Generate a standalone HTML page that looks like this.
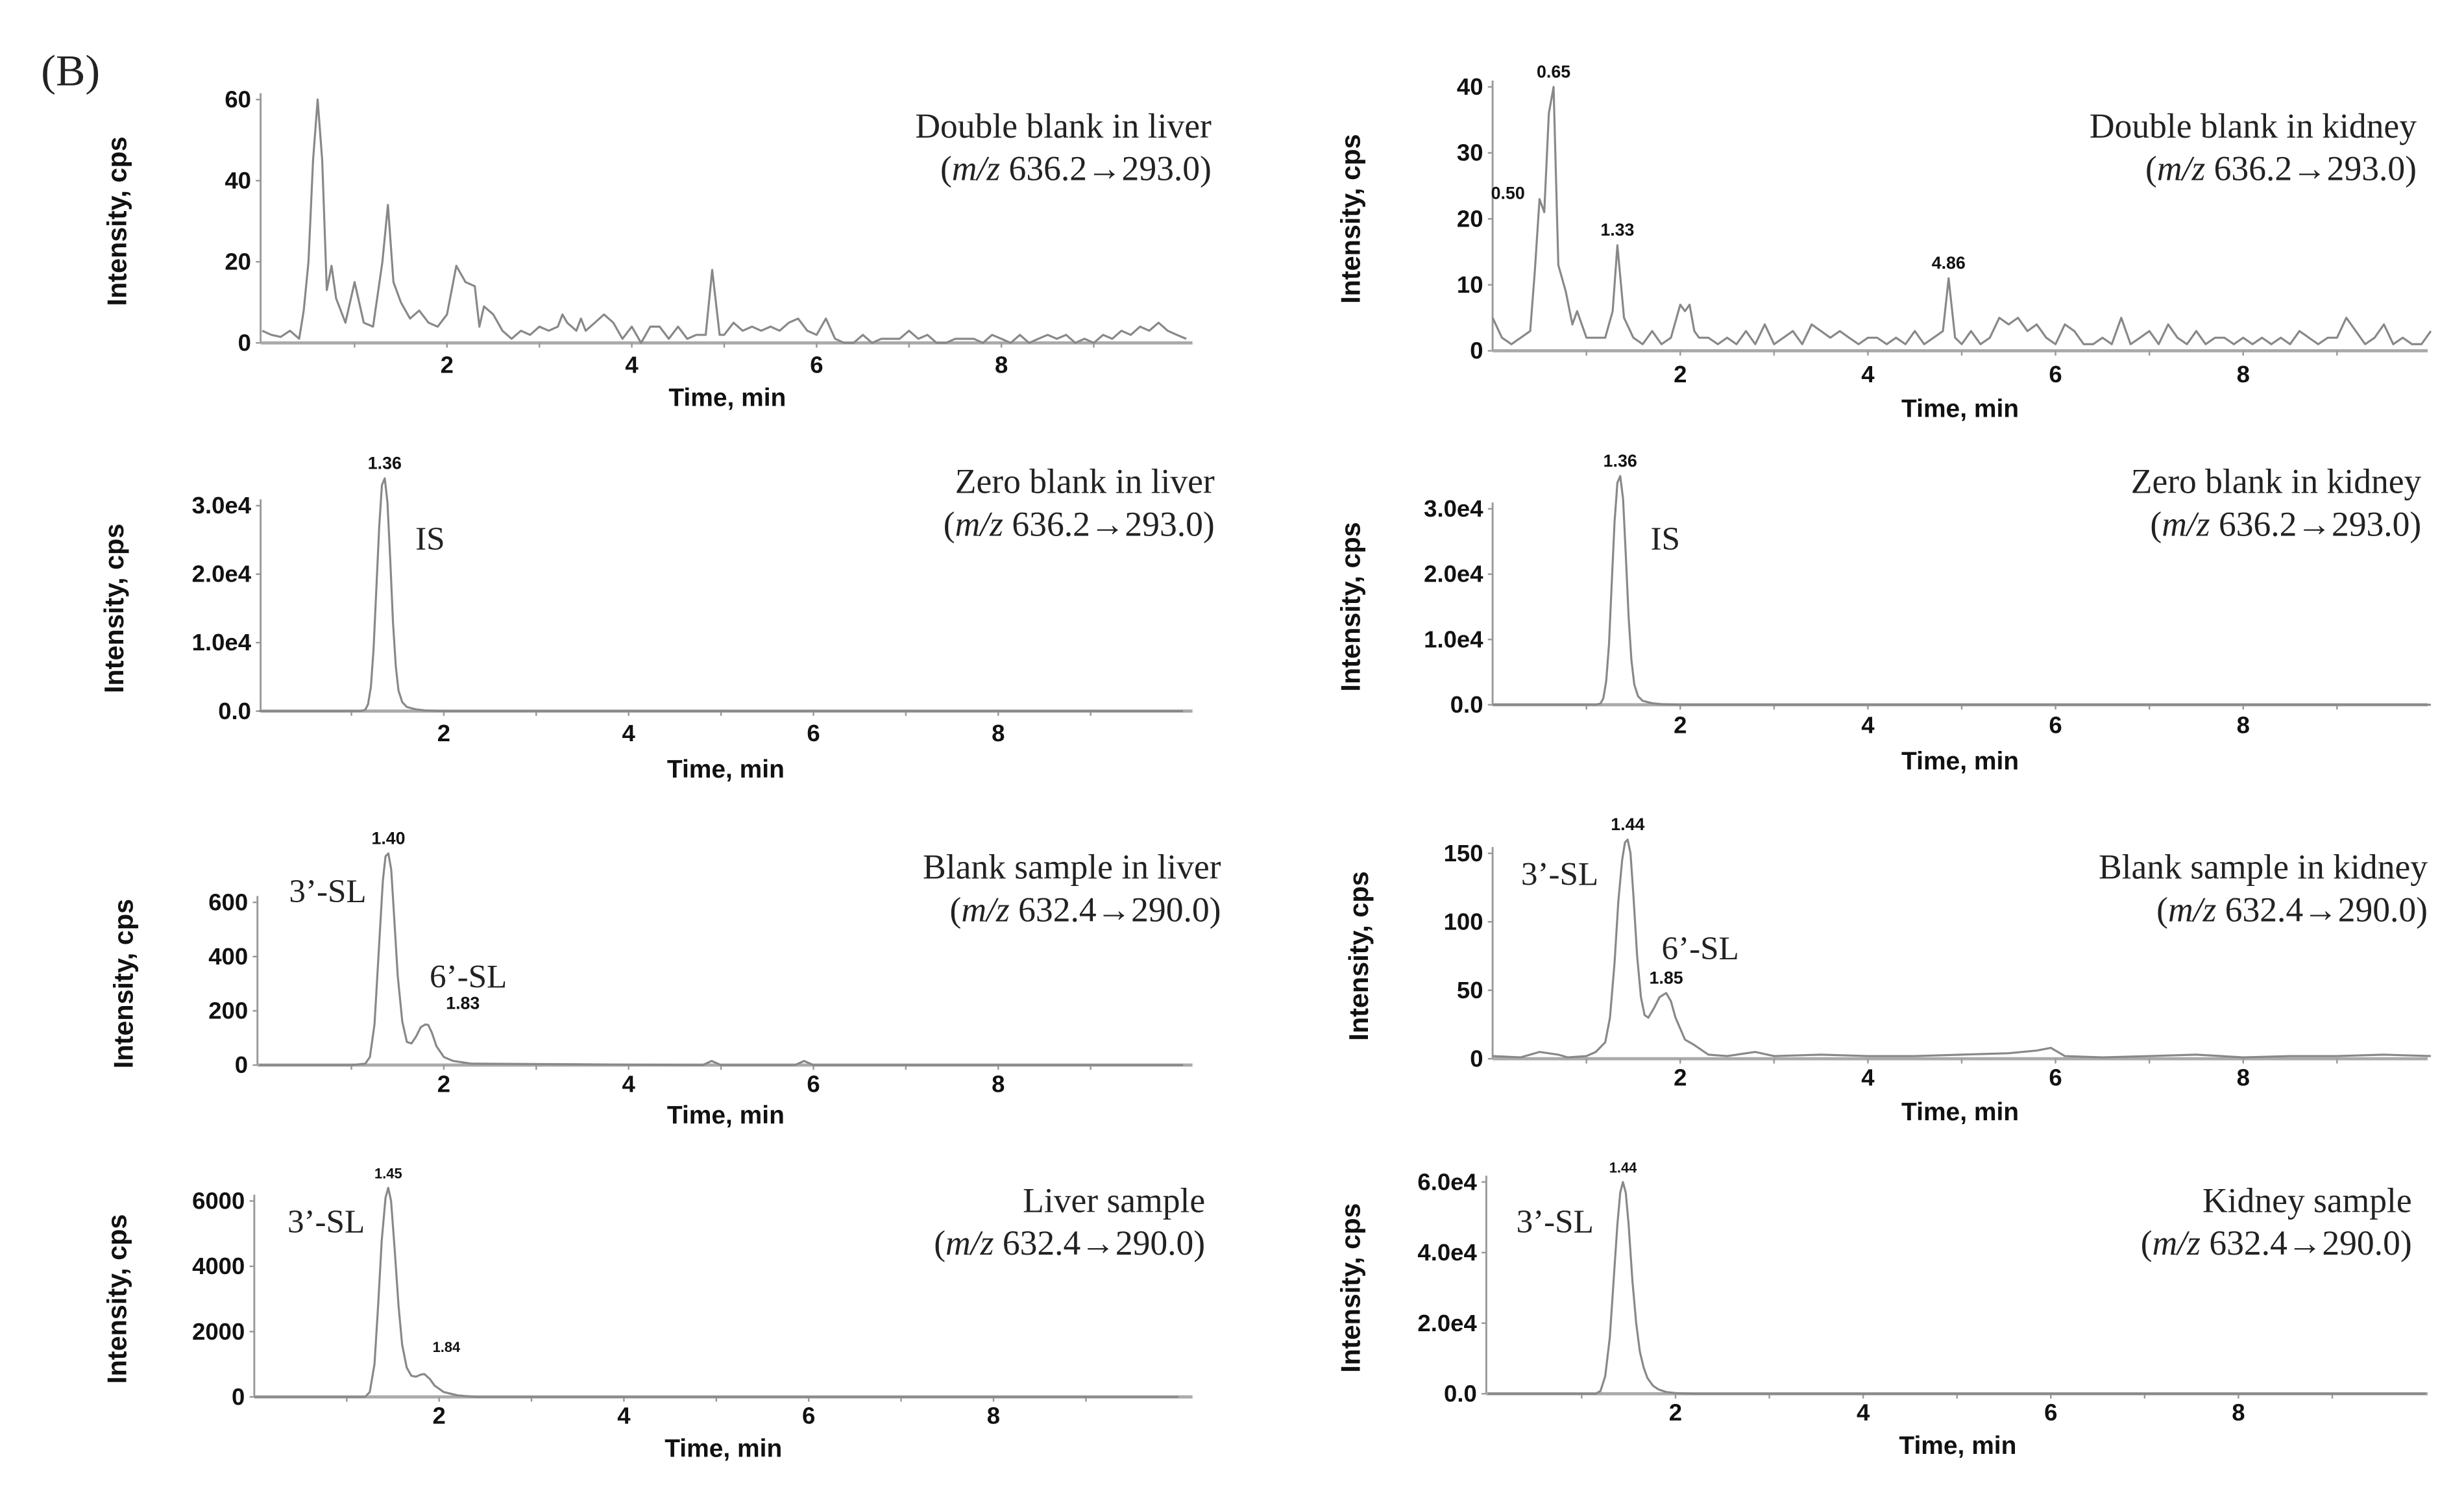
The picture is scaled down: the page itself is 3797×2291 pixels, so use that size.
<!DOCTYPE html>
<html><head><meta charset="utf-8"><style>
html,body{margin:0;padding:0;background:#fff;}
svg{display:block;}
.tk{font-family:"Liberation Sans",Arial,sans-serif;font-weight:bold;font-size:15px;fill:#111;}
.ttl{font-family:"Liberation Serif","Times New Roman",serif;font-size:22px;fill:#222;}
.pk{font-family:"Liberation Sans",Arial,sans-serif;font-weight:bold;font-size:11px;fill:#111;}
.ann{font-family:"Liberation Serif","Times New Roman",serif;font-size:21px;fill:#222;}
</style></head><body>
<svg id="fig" width="3797" height="2291" viewBox="0 0 1560 941" preserveAspectRatio="none" xmlns="http://www.w3.org/2000/svg">
<text x="26" y="54" class="ttl" style="font-size:28px">(B)</text>
</svg>
<script>
// ---- data (time in min, intensity in cps) ----
const t1 = [0,0.1,0.2,0.3,0.4,0.45,0.5,0.55,0.6,0.65,0.7,0.75,0.8,0.9,1.0,1.05,1.1,1.2,1.3,1.36,1.42,1.5,1.6,1.7,1.8,1.9,2.0,2.1,2.2,2.3,2.35,2.4,2.5,2.6,2.7,2.8,2.9,3.0,3.1,3.2,3.25,3.3,3.4,3.45,3.5,3.6,3.7,3.8,3.9,4.0,4.1,4.2,4.3,4.4,4.5,4.6,4.7,4.8,4.87,4.95,5.0,5.1,5.2,5.3,5.4,5.5,5.6,5.7,5.8,5.9,6.0,6.1,6.2,6.3,6.4,6.5,6.6,6.7,6.8,6.9,7.0,7.1,7.2,7.3,7.4,7.5,7.6,7.7,7.8,7.9,8.0,8.1,8.2,8.3,8.4,8.5,8.6,8.7,8.8,8.9,9.0,9.1,9.2,9.3,9.4,9.5,9.6,9.7,9.8,9.9,10.0];
const v1 = [3,2,1.5,3,1,8,20,45,60,45,13,19,11,5,15,10,5,4,20,34,15,10,6,8,5,4,7,19,15,14,4,9,7,3,1,3,2,4,3,4,7,5,3,6,3,5,7,5,1,4,0,4,4,1,4,1,2,2,18,2,2,5,3,4,3,4,3,5,6,3,2,6,1,0,0,2,0,1,1,1,3,1,2,0,0,1,1,1,0,2,1,0,2,0,1,2,1,2,0,1,0,2,1,3,2,4,3,5,3,2,1];
const t2 = [0,0.1,0.2,0.3,0.4,0.45,0.5,0.55,0.6,0.65,0.7,0.78,0.85,0.9,1.0,1.1,1.2,1.28,1.33,1.4,1.5,1.6,1.7,1.8,1.9,2.0,2.05,2.1,2.15,2.2,2.3,2.4,2.5,2.6,2.7,2.8,2.9,3.0,3.1,3.2,3.3,3.4,3.5,3.6,3.7,3.8,3.9,4.0,4.1,4.2,4.3,4.4,4.5,4.6,4.7,4.8,4.86,4.93,5.0,5.1,5.2,5.3,5.4,5.5,5.6,5.7,5.8,5.9,6.0,6.1,6.2,6.3,6.4,6.5,6.6,6.7,6.8,6.9,7.0,7.1,7.2,7.3,7.4,7.5,7.6,7.7,7.8,7.9,8.0,8.1,8.2,8.3,8.4,8.5,8.6,8.7,8.8,8.9,9.0,9.1,9.2,9.3,9.4,9.5,9.6,9.7,9.8,9.9,10.0];
const v2 = [5,2,1,2,3,12,23,21,36,40,13,9,4,6,2,2,2,6,16,5,2,1,3,1,2,7,6,7,3,2,2,1,2,1,3,1,4,1,2,3,1,4,3,2,3,2,1,2,2,1,2,1,3,1,2,3,11,2,1,3,1,2,5,4,5,3,4,2,1,4,3,1,1,2,1,5,1,2,3,1,4,2,1,3,1,2,2,1,2,1,2,1,2,1,3,2,1,2,2,5,3,1,2,4,1,2,1,1,3,1,5];
const t3 = [0,1.1,1.15,1.18,1.21,1.24,1.27,1.30,1.33,1.36,1.39,1.42,1.45,1.48,1.51,1.55,1.6,1.7,1.8,2.0,2.3,10];
const v3 = [0,0,200,1000,3500,9000,18000,27000,33000,34000,30500,22000,13000,6500,3000,1300,600,250,100,0,0,0];
const t4 = [0,1.1,1.15,1.18,1.21,1.24,1.27,1.30,1.33,1.36,1.39,1.42,1.45,1.48,1.51,1.55,1.6,1.7,1.8,2.0,2.3,10];
const v4 = [0,0,200,1000,3600,9300,18500,28000,34000,35000,31500,23000,13500,6800,3100,1300,600,250,100,0,0,0];
const t5 = [0,1.0,1.15,1.2,1.25,1.3,1.34,1.37,1.40,1.43,1.46,1.5,1.55,1.6,1.65,1.7,1.75,1.8,1.83,1.87,1.92,2.0,2.1,2.3,4.8,4.9,5.0,5.8,5.9,6.0,10];
const v5 = [0,0,5,30,150,450,680,770,780,720,560,330,160,85,80,105,140,150,148,120,70,30,15,5,0,15,0,0,15,0,0];
const t6 = [0,0.3,0.5,0.7,0.8,1.0,1.1,1.2,1.25,1.3,1.34,1.38,1.41,1.44,1.47,1.5,1.54,1.58,1.62,1.66,1.72,1.78,1.85,1.9,1.95,2.05,2.15,2.3,2.5,2.8,3.0,3.5,4.0,4.5,5.0,5.5,5.8,5.95,6.1,6.5,7.0,7.5,8.0,8.5,9.0,9.5,10.0];
const v6 = [2,1,5,3,1,2,5,12,30,70,115,145,158,160,150,120,75,45,32,30,37,45,48,42,30,14,10,3,2,5,2,3,2,2,3,4,6,8,2,1,2,3,1,2,2,3,2];
const t7 = [0,1.2,1.25,1.3,1.34,1.38,1.42,1.45,1.48,1.52,1.56,1.6,1.65,1.7,1.75,1.8,1.84,1.9,1.95,2.05,2.2,2.4,10];
const v7 = [0,0,150,1000,2800,4800,6100,6400,6000,4500,2800,1600,900,650,620,680,700,550,350,150,50,0,0];
const t8 = [0,1.15,1.2,1.25,1.3,1.34,1.38,1.41,1.44,1.47,1.5,1.54,1.58,1.62,1.66,1.7,1.76,1.82,1.9,2.0,2.2,10];
const v8 = [0,0,800,5000,16000,32000,48000,57000,60000,57000,48000,32000,20000,12000,7500,4500,2300,1200,500,200,0,0];
const xTicks = [2,4,6,8];
const yt1 = [0,20,40,60], yl1 = ["0","20","40","60"];
const yt2 = [0,10,20,30,40], yl2 = ["0","10","20","30","40"];
const yt3 = [0,10000,20000,30000], yl3 = ["0.0","1.0e4","2.0e4","3.0e4"];
const yt5 = [0,200,400,600], yl5 = ["0","200","400","600"];
const yt6 = [0,50,100,150], yl6 = ["0","50","100","150"];
const yt7 = [0,2000,4000,6000], yl7 = ["0","2000","4000","6000"];
const yt8 = [0,20000,40000,60000], yl8 = ["0.0","2.0e4","4.0e4","6.0e4"];

// ---- layout ----
const panels = [
 {id:"liver-double-blank",t:t1,v:v1,yt:yt1,yl:yl1,x0:166,x1:751,xe:755,ys:165,yb:217,ymax:60,ytop:63,tickY:236,labY:257,ytx:80,t1:"Double blank in liver",t2:"636.2→293.0",tx:767,ty:87,peaks:[],ann:[]},
 {id:"kidney-double-blank",t:t2,v:v2,yt:yt2,yl:yl2,x0:945,x1:1539,xe:1537,ys:945,yb:222,ymax:40,ytop:55,tickY:242,labY:264,ytx:861,t1:"Double blank in kidney",t2:"636.2→293.0",tx:1530,ty:87,peaks:[[0.5,"0.50",-20,-6],[0.65,"0.65",0,0],[1.33,"1.33",0,0],[4.86,"4.86",0,0]],ann:[]},
 {id:"liver-zero-blank",t:t3,v:v3,yt:yt3,yl:yl3,x0:164,x1:749,xe:755,ys:165,yb:450,ymax:30000,ytop:320,tickY:469,labY:492,ytx:78,t1:"Zero blank in liver",t2:"636.2→293.0",tx:769,ty:312,peaks:[[1.36,"1.36",0,0]],ann:[["IS",263,348]]},
 {id:"kidney-zero-blank",t:t4,v:v4,yt:yt3,yl:yl3,x0:945,x1:1539,xe:1537,ys:945,yb:446,ymax:30000,ytop:322,tickY:464,labY:487,ytx:861,t1:"Zero blank in kidney",t2:"636.2→293.0",tx:1533,ty:312,peaks:[[1.36,"1.36",0,0]],ann:[["IS",1045,348]]},
 {id:"liver-blank-sample",t:t5,v:v5,yt:yt5,yl:yl5,x0:164,x1:749,xe:755,ys:163,yb:674,ymax:600,ytop:571,tickY:691,labY:711,ytx:84,t1:"Blank sample in liver",t2:"632.4→290.0",tx:773,ty:556,peaks:[[1.40,"1.40",0,0],[1.83,"1.83",22,4]],ann:[["3’-SL",183,571],["6’-SL",272,625]]},
 {id:"kidney-blank-sample",t:t6,v:v6,yt:yt6,yl:yl6,x0:945,x1:1539,xe:1537,ys:945,yb:670,ymax:150,ytop:540,tickY:687,labY:709,ytx:866,t1:"Blank sample in kidney",t2:"632.4→290.0",tx:1537,ty:556,peaks:[[1.44,"1.44",0,0],[1.85,"1.85",0,0]],ann:[["3’-SL",963,560],["6’-SL",1052,607]]},
 {id:"liver-sample",t:t7,v:v7,yt:yt7,yl:yl7,x0:161,x1:746,xe:755,ys:161,yb:884,ymax:6000,ytop:760,tickY:901,labY:922,ytx:80,t1:"Liver sample",t2:"632.4→290.0",tx:763,ty:767,peaks:[[1.45,"1.45",0,0],[1.84,"1.84",14,8]],ann:[["3’-SL",182,780]],pkSmall:true},
 {id:"kidney-sample",t:t8,v:v8,yt:yt8,yl:yl8,x0:942,x1:1536,xe:1537,ys:941,yb:882,ymax:60000,ytop:748,tickY:899,labY:920,ytx:861,t1:"Kidney sample",t2:"632.4→290.0",tx:1527,ty:767,peaks:[[1.44,"1.44",0,0]],ann:[["3’-SL",960,780]],pkSmall:true}
];
const NS="http://www.w3.org/2000/svg";
const svg=document.getElementById("fig");
function mk(tag,attrs,parent){const e=document.createElementNS(NS,tag);for(const k in attrs)e.setAttribute(k,attrs[k]);(parent||svg).appendChild(e);return e;}
panels.forEach(p=>{
  const g=mk("g",{});
  
  
  const sx=t=>p.x0+(p.x1-p.x0)*t/10;
  const sy=v=>p.yb-(p.yb-p.ytop)*v/p.ymax;
  const ya=mk("line",{x1:p.ys,y1:sy(p.yt[p.yt.length-1])-4,x2:p.ys,y2:p.yb,stroke:"#999","stroke-width":1.2},g);
  
  
  const xa=mk("line",{x1:p.ys,y1:p.yb,x2:p.xe,y2:p.yb,stroke:"#aaa","stroke-width":2},g);
  
  
  for(let m=1;m<10;m++){mk("line",{x1:sx(m),y1:p.yb,x2:sx(m),y2:p.yb+3,stroke:"#999","stroke-width":1},g);}
  p.yt.forEach((v,i)=>{
    mk("line",{x1:p.ys-3,y1:sy(v),x2:p.ys,y2:sy(v),stroke:"#999","stroke-width":1},g);
    const tl=mk("text",{x:p.ys-6,y:sy(v)+5,"text-anchor":"end",class:"tk"},g);
    tl.textContent=p.yl[i];
    
    
  });
  xTicks.forEach(t=>{
    const tl=mk("text",{x:sx(t),y:p.tickY,"text-anchor":"middle",class:"tk"},g);
    tl.textContent=t;
    
    
  });
  const xt=mk("text",{x:(p.x0+p.xe)/2,y:p.labY,"text-anchor":"middle",class:"tk",style:"font-size:16px"},g);
  xt.textContent="Time, min";
  
  
  const cy=(p.ytop+p.yb)/2;
  const yt=mk("text",{x:p.ytx,y:cy,"text-anchor":"middle",class:"tk",style:"font-size:17px",transform:`rotate(-90 ${p.ytx} ${cy})`},g);
  yt.textContent="Intensity, cps";
  
  
  const d=p.t.map((t,i)=>(i?"L":"M")+sx(t).toFixed(1)+","+sy(p.v[i]).toFixed(1)).join(" ");
  const tr=mk("path",{d:d,fill:"none",stroke:"#888","stroke-width":1.3,"stroke-linejoin":"round"},g);
  
  
  p.peaks.forEach(pk=>{
    const i=p.t.indexOf(pk[0]);const px=sx(pk[0]),py=sy(p.v[i]);
    const lab=mk("text",{x:px+pk[2],y:py-6-pk[3],"text-anchor":"middle",class:"pk",style:p.pkSmall?"font-size:9px":""},g);
    lab.textContent=pk[1];
    
    
  });
  p.ann.forEach(a=>{
    const e=mk("text",{x:a[1],y:a[2],class:"ann"},g);
    e.textContent=a[0];
    
    
  });
  const h1=mk("text",{x:p.tx,y:p.ty,"text-anchor":"end",class:"ttl"},g);
  h1.textContent=p.t1;
  
  
  const h2=mk("text",{x:p.tx,y:p.ty+27,"text-anchor":"end",class:"ttl"},g);
  h2.innerHTML='(<tspan font-style="italic">m/z</tspan> '+p.t2+')';
  
  
});
</script>
</body></html>
